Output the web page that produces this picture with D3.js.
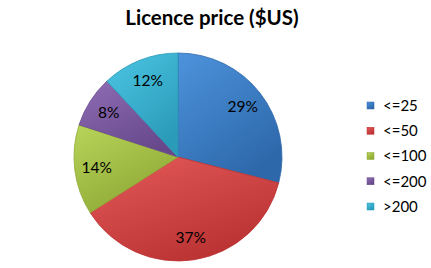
<!DOCTYPE html>
<html><head><meta charset="utf-8">
<script src="https://cdn.jsdelivr.net/npm/d3@7"></script>
<style>html,body{margin:0;padding:0;background:#fff;}svg{display:block;}</style>
</head><body>
<svg id="c" width="431" height="268"></svg>
<script>
const categories = ["<=25", "<=50", "<=100", "<=200", ">200"];
const values = [29, 37, 14, 8, 12];
const colors = ["#3a7dc6", "#d64343", "#a6c443", "#7c5aa2", "#36b4d4"];
const lightColors = ["#4d93dc", "#e45a5a", "#b8d45a", "#8f6db5", "#4cc6e3"];
const darkColors = ["#2d68aa", "#bb3232", "#8ea934", "#67488b", "#2a9bb9"];
const title = "Licence price ($US)";

const svg = d3.select("#c");
const cx = 178, cy = 157, r = 104;
const font = "Lato, 'Open Sans', sans-serif";

const defs = svg.append("defs");
categories.forEach((c, i) => {
  const g = defs.append("linearGradient").attr("id", "g" + i)
    .attr("x1", "0%").attr("y1", "0%").attr("x2", "60%").attr("y2", "100%");
  g.append("stop").attr("offset", "0%").attr("stop-color", lightColors[i]);
  g.append("stop").attr("offset", "100%").attr("stop-color", darkColors[i]);
});

svg.append("text").attr("x", 212).attr("y", 25).attr("text-anchor", "middle")
  .attr("font-family", font).attr("font-weight", "bold").attr("font-size", 20.5)
  .attr("fill", "#000").text(title);

const pie = d3.pie().sort(null).value(d => d)(values);
const arc = d3.arc().innerRadius(0).outerRadius(r);
const labelArc = d3.arc().innerRadius(82).outerRadius(82);
const total = d3.sum(values);

const g = svg.append("g").attr("transform", `translate(${cx},${cy})`);
g.selectAll("path.s").data(pie).join("path").attr("class", "s")
  .attr("d", arc).attr("fill", (d, i) => `url(#g${i})`)
  .attr("stroke", (d, i) => darkColors[i]).attr("stroke-width", 0.8);

g.selectAll("text.l").data(pie).join("text").attr("class", "l")
  .attr("transform", d => `translate(${labelArc.centroid(d)})`)
  .attr("text-anchor", "middle").attr("dy", "0.35em")
  .attr("font-family", font).attr("font-size", 15.5).attr("fill", "#000")
  .text(d => Math.round(d.data / total * 100) + "%");

const leg = svg.append("g");
const ly = d3.scalePoint().domain(categories).range([105.5, 206.5]);
categories.forEach((c, i) => {
  const y = ly(c);
  leg.append("rect").attr("x", 367).attr("y", y - 3.5).attr("width", 7).attr("height", 7)
    .attr("fill", `url(#g${i})`).attr("stroke", darkColors[i]).attr("stroke-width", 0.5);
  leg.append("text").attr("x", 383).attr("y", y).attr("dy", "0.35em")
    .attr("font-family", font).attr("font-size", 15).attr("fill", "#000").text(c);
});
</script>
</body></html>
